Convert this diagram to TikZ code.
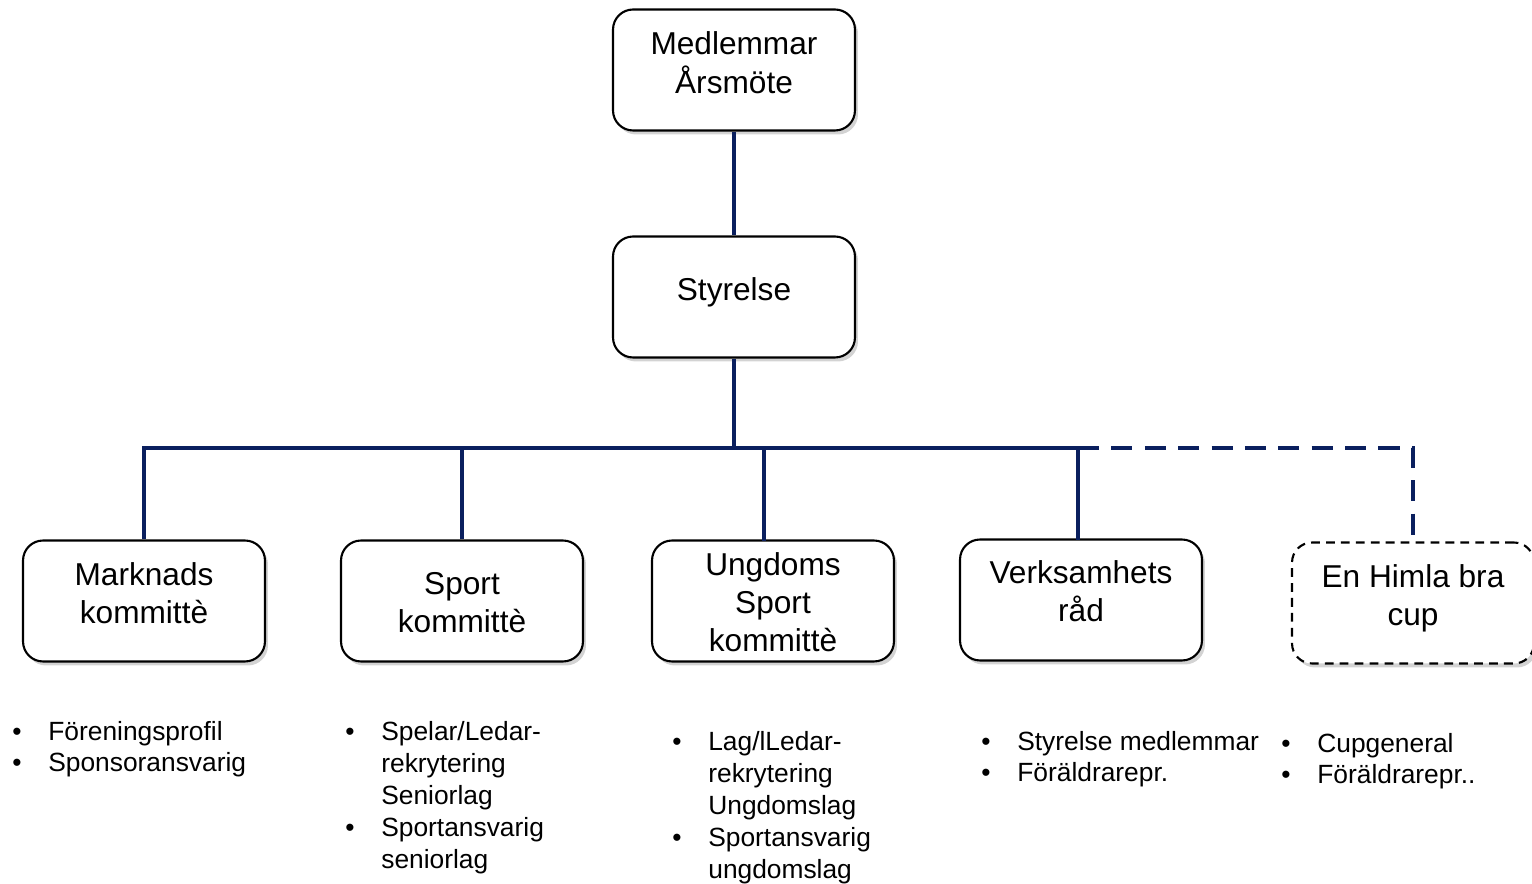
\documentclass[tikz,border=0pt]{standalone}
\usepackage{fontspec}
\setmainfont{Liberation Sans}
\usetikzlibrary{shadows}
\definecolor{navy}{HTML}{0A1F5E}
\newcommand\boxfont{\fontsize{18}{21.5}\selectfont}
\newcommand\listfont{\fontsize{15}{18.2}\selectfont}
\newcommand\bul{\makebox[0.72cm][l]{•}}
\newcommand\ind{\hspace*{0.72cm}}
% text i ruta, lyft #1
\newcommand\boxtext[2]{\raisebox{#1}[\height][\depth]{\begin{tabular}{@{}c@{}}#2\end{tabular}}}
\tikzset{
  orgbox/.style={draw, line width=1.2pt, rounded corners=0.4cm, fill=white,
    minimum width=4.84cm, minimum height=2.42cm, inner sep=0pt, font=\boxfont,
    drop shadow={opacity=0.35, shadow xshift=0.06cm, shadow yshift=-0.08cm}},
  cupbox/.style={orgbox, dash pattern=on 5pt off 3.5pt},
  conn/.style={draw=navy, line width=2.6pt},
  duty/.style={anchor=base west, align=left, inner sep=0pt, font=\listfont},
}
\begin{document}
\begin{tikzpicture}[x=0.02cm, y=-0.02cm]
   \useasboundingbox (0,0) rectangle (1532,884);

   % rutor
   \node[orgbox] (arsmote) at (734,70) {\boxtext{2.2pt}{Medlemmar\\Årsmöte}};
   \node[orgbox] (styrelse) at (734,297) {\boxtext{2.5pt}{Styrelse}};
   \node[orgbox] (marknad) at (144,601) {\boxtext{2.2pt}{Marknads\\kommittè}};
   \node[orgbox] (sport) at (462,601) {\boxtext{-2.6pt}{Sport\\kommittè}};
   \node[orgbox] (ungdom) at (773,601) {\boxtext{-2.9pt}{Ungdoms\\Sport\\kommittè}};
   \node[orgbox] (verks) at (1081,600) {\boxtext{2.7pt}{Verksamhets\\råd}};
   \node[cupbox] (cup) at (1413,603) {\boxtext{2.5pt}{En Himla bra\\cup}};

   % linjer
   \coordinate (bus) at (734,448);
   \coordinate (busR) at (1078,448);
   \coordinate (ungtop) at (764,541);
   \coordinate (verktop) at (1078,540);
   \draw[conn] (arsmote) -- (styrelse);
   \draw[conn] (styrelse) -- (bus);
   \draw[conn] (marknad.north) |- (busR) -- (verktop);
   \draw[conn] (sport.north) -- (sport.north |- bus);
   \draw[conn] (ungtop) -- (ungtop |- bus);
   \draw[conn, dash pattern=on 12pt off 7pt] (busR) -| (cup.north);

   % uppgifter
   \node[duty] (l1) at (12,772) {\bul Föreningsprofil\\\bul Sponsoransvarig};
   \node[duty] (l2) at (345,868) {\bul Spelar/Ledar-\\\ind rekrytering\\\ind Seniorlag\\\bul Sportansvarig\\\ind seniorlag};
   \node[duty] (l3) at (672,878) {\bul Lag/lLedar-\\\ind rekrytering\\\ind Ungdomslag\\\bul Sportansvarig\\\ind ungdomslag};
   \node[duty] (l4) at (981,782) {\bul Styrelse medlemmar\\\bul Föräldrarepr.};
   \node[duty] (l5) at (1281,784) {\bul Cupgeneral\\\bul Föräldrarepr..};
\end{tikzpicture}
\end{document}
